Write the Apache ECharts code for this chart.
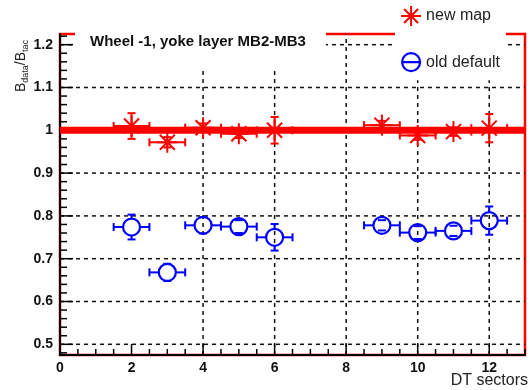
<!DOCTYPE html>
<html>
<head>
<meta charset="utf-8">
<script src="https://cdn.jsdelivr.net/npm/echarts@6/dist/echarts.min.js"></script>
<style>
  html, body { margin: 0; padding: 0; background: #fff; }
  #chart { width: 530px; height: 390px; }
</style>
</head>
<body>
<div id="chart"></div>
<script>
// DT sectors of wheel -1, yoke layer MB2-MB3
const sectors = [2, 3, 4, 5, 6, 9, 10, 11, 12];
const sectorHalfWidth = 0.5;

// B ratio with the new field map
const newMap    = [1.010, 0.972, 1.006, 0.992, 1.000, 1.012, 0.988, 0.997, 1.005];
const newMapErr = [0.030, 0.012, 0.010, 0.010, 0.031, 0.010, 0.010, 0.010, 0.033];

// B ratio with the old default map
const oldDefault    = [0.774, 0.668, 0.778, 0.775, 0.750, 0.778, 0.761, 0.765, 0.789];
const oldDefaultErr = [0.029, 0.020, 0.019, 0.015, 0.031, 0.012, 0.015, 0.012, 0.033];

// constant fit level across all sectors
const fitLevel = 1.0;
const fitRange = [0, 13];

// axes
const xMin = 0, xMax = 13;
const yMin = 0.475, yMax = 1.225;
const xGridLines = [4, 6, 8, 10, 12];
const yGridLines = [0.5, 0.6, 0.7, 0.8, 0.9, 1.0, 1.1, 1.2];

const xTicks = [];
for (let k = 0; k <= 26; k++) xTicks.push(k * 0.5);
const yTicks = [];
for (let k = 24; k <= 61; k++) yTicks.push(+(k * 0.02).toFixed(2));

const FONT = 'Liberation Sans, Arial, Helvetica, sans-serif';
const RED = '#ff0000';
const BLUE = '#0000ff';

const chart = echarts.init(document.getElementById('chart'), null, { renderer: 'canvas' });

function isMultiple(v, step) {
  const q = v / step;
  return Math.abs(q - Math.round(q)) < 1e-6;
}

function line(p1, p2, color, w, dash) {
  return {
    type: 'line',
    shape: { x1: p1[0], y1: p1[1], x2: p2[0], y2: p2[1] },
    style: { stroke: color, lineWidth: w, lineDash: dash || null }
  };
}

// error bars plus marker (star or open circle)
function pointRenderer(kind, color) {
  return function (params, api) {
    const x = api.value(0), y = api.value(1), e = api.value(2);
    const c = api.coord([x, y]);
    const l = api.coord([x - sectorHalfWidth, y]);
    const r = api.coord([x + sectorHalfWidth, y]);
    const t = api.coord([x, y + e]);
    const b = api.coord([x, y - e]);
    const cap = 4;
    const R = kind === 'circle' ? 8.5 : 0;
    const ch = [];
    // horizontal bar
    ch.push(line(l, [c[0] - R, c[1]], color, 2));
    ch.push(line([c[0] + R, c[1]], r, color, 2));
    ch.push(line([l[0], l[1] - cap], [l[0], l[1] + cap], color, 2));
    ch.push(line([r[0], r[1] - cap], [r[0], r[1] + cap], color, 2));
    // vertical bar
    if (c[1] - t[1] > R) {
      ch.push(line(t, [c[0], c[1] - R], color, 2));
      ch.push(line([c[0], c[1] + R], b, color, 2));
    }
    ch.push(line([t[0] - cap, t[1]], [t[0] + cap, t[1]], color, 2));
    ch.push(line([b[0] - cap, b[1]], [b[0] + cap, b[1]], color, 2));
    if (kind === 'circle') {
      ch.push({
        type: 'circle',
        shape: { cx: c[0], cy: c[1], r: R },
        style: { fill: 'none', stroke: color, lineWidth: 2.2 }
      });
    } else {
      const s = 10.5, d = 7.5;
      ch.push(line([c[0] - s, c[1]], [c[0] + s, c[1]], color, 2));
      ch.push(line([c[0], c[1] - s], [c[0], c[1] + s], color, 2));
      ch.push(line([c[0] - d, c[1] - d], [c[0] + d, c[1] + d], color, 2));
      ch.push(line([c[0] - d, c[1] + d], [c[0] + d, c[1] - d], color, 2));
    }
    return { type: 'group', children: ch };
  };
}

const gridData = yGridLines.map(v => [0, v]).concat(xGridLines.map(v => [1, v]));
const tickData = xTicks.map(v => [0, v]).concat(yTicks.map(v => [1, v]));

const starIcon = 'path://M0,10L20,10M10,0L10,20M3,3L17,17M17,3L3,17';
const circleIcon = 'path://M1,10A9,9 0 1 1 19,10A9,9 0 1 1 1,10ZM0,10L20,10';

const option = {
  animation: false,
  backgroundColor: '#fff',
  grid: {
    left: 60, right: 5, top: 34, bottom: 35,
    show: true, borderColor: RED, borderWidth: 2.5, backgroundColor: 'transparent'
  },
  title: {
    text: 'Wheel -1, yoke layer MB2-MB3',
    left: 75, top: 28,
    padding: [6, 20, 18, 15],
    backgroundColor: '#fff',
    textStyle: { fontFamily: FONT, fontSize: 15, fontWeight: 'bold', color: '#111' }
  },
  legend: {
    orient: 'vertical',
    left: 395, top: 0,
    padding: [5, 6, 8, 5],
    itemWidth: 20, itemHeight: 20, itemGap: 25,
    backgroundColor: '#fff',
    textStyle: { fontFamily: FONT, fontSize: 16, color: '#222' },
    data: [
      { name: 'new map', icon: starIcon,
        itemStyle: { color: 'rgba(0,0,0,0)', borderColor: RED, borderWidth: 2 } },
      { name: 'old default', icon: circleIcon,
        itemStyle: { color: 'rgba(0,0,0,0)', borderColor: BLUE, borderWidth: 2.2 } }
    ]
  },
  xAxis: {
    type: 'value', min: xMin, max: xMax, interval: 1,
    axisLine: { show: true, lineStyle: { color: '#000', width: 2 } },
    axisTick: { show: false },
    splitLine: { show: false },
    axisLabel: {
      margin: 6,
      fontFamily: FONT, fontSize: 14, fontWeight: 'bold', color: '#111',
      formatter: v => (isMultiple(v, 2) && v < xMax ? String(v) : '')
    }
  },
  yAxis: {
    type: 'value', min: yMin, max: yMax, interval: 0.025,
    axisLine: { show: true, lineStyle: { color: '#000', width: 2 } },
    axisTick: { show: false },
    splitLine: { show: false },
    axisLabel: {
      margin: 7,
      fontFamily: FONT, fontSize: 14, fontWeight: 'bold', color: '#111',
      formatter: v => (isMultiple(v, 0.1) ? String(+v.toFixed(1)) : '')
    }
  },
  graphic: [
    {
      type: 'text', x: 21, y: 66, rotation: Math.PI / 2,
      style: {
        text: '{b|B}{s|data}{b|/B}{s|tac}',
        align: 'center', verticalAlign: 'middle',
        fill: '#222',
        rich: {
          b: { fontFamily: FONT, fontSize: 14, lineHeight: 18, fill: '#222' },
          s: { fontFamily: FONT, fontSize: 9, lineHeight: 10, verticalAlign: 'bottom', fill: '#222' }
        }
      }
    },
    {
      type: 'text', right: 2, top: 373,
      style: { text: 'DT sectors', fontFamily: FONT, fontSize: 16, fill: '#222' }
    }
  ],
  series: [
    {
      // dashed grid
      type: 'custom', name: 'grid', z: 1, silent: true,
      data: gridData,
      renderItem: (params, api) => {
        const dir = api.value(0), v = api.value(1);
        const p1 = dir === 0 ? api.coord([xMin, v]) : api.coord([v, yMin]);
        const p2 = dir === 0 ? api.coord([xMax, v]) : api.coord([v, yMax]);
        return line(p1, p2, '#111', 1.5, [4, 4]);
      }
    },
    {
      // inward axis ticks
      type: 'custom', name: 'ticks', z: 1, silent: true,
      data: tickData,
      renderItem: (params, api) => {
        const dir = api.value(0), v = api.value(1);
        if (dir === 0) {
          const p = api.coord([v, yMin]);
          const len = isMultiple(v, 2) ? 11 : 6;
          return line(p, [p[0], p[1] - len], '#000', 1.5);
        }
        const p = api.coord([xMin, v]);
        const len = isMultiple(v, 0.1) ? 13 : 7;
        return line(p, [p[0] + len, p[1]], '#000', 1.5);
      }
    },
    {
      name: 'fit', type: 'line', z: 2, silent: true,
      symbol: 'none',
      data: fitRange.map(x => [x, fitLevel]),
      lineStyle: { color: RED, width: 7 }
    },
    {
      name: 'old default', type: 'custom', z: 3,
      data: sectors.map((s, i) => [s, oldDefault[i], oldDefaultErr[i]]),
      encode: { x: 0, y: 1 },
      itemStyle: { color: BLUE },
      renderItem: pointRenderer('circle', BLUE)
    },
    {
      name: 'new map', type: 'custom', z: 3,
      data: sectors.map((s, i) => [s, newMap[i], newMapErr[i]]),
      encode: { x: 0, y: 1 },
      itemStyle: { color: RED },
      renderItem: pointRenderer('star', RED)
    }
  ]
};

chart.setOption(option);
</script>
</body>
</html>
